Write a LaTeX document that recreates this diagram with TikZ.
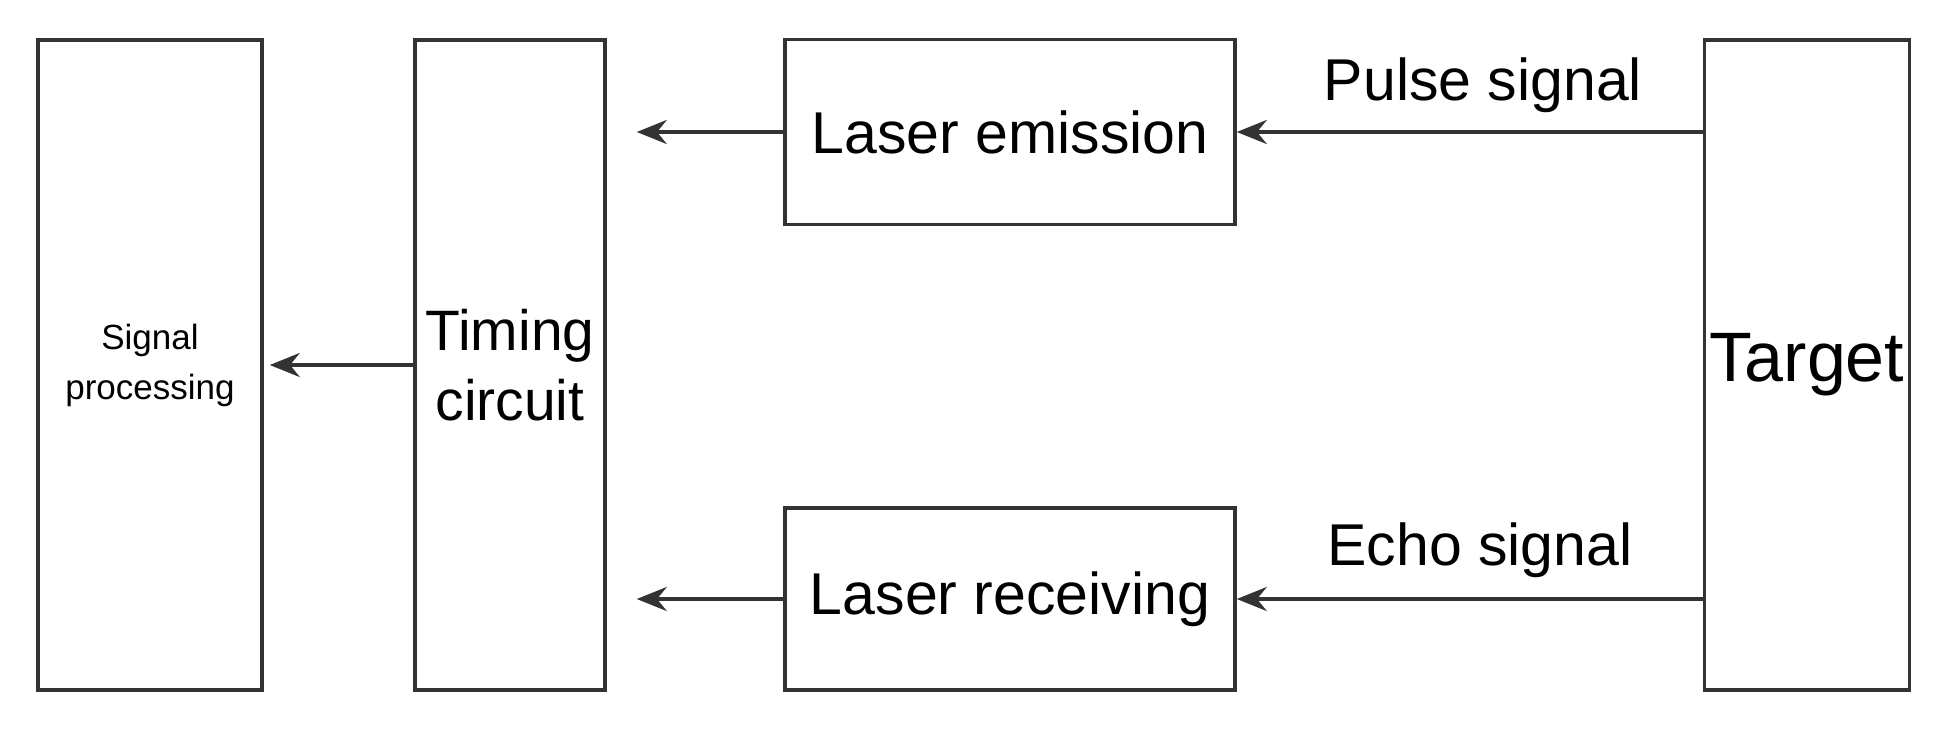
\documentclass[tikz,border=0pt]{standalone}
\usepackage{fontspec}
\setmainfont{Liberation Sans}
\usetikzlibrary{arrows.meta}
\begin{document}
\begin{tikzpicture}[x=1pt,y=-1pt,
  box/.style={draw=black!80,line width=3.5pt,inner sep=0pt},
  arr/.style={draw=black!80,line width=4pt,-{Stealth[length=30pt,width=24pt]}},
  lab/.style={font=\fontsize{59}{68}\selectfont}]
\useasboundingbox (0,0) rectangle (1950,728);
\node[box,minimum width=224pt,minimum height=650pt,align=center,font=\fontsize{35}{50}\selectfont] (sp) at (150,365) {Signal\\processing};
\node[box,minimum width=190pt,minimum height=650pt,align=center,font=\fontsize{57}{70}\selectfont] (tc) at (510,365) {Timing\\circuit};
\node[box,minimum width=450pt,minimum height=185pt,lab] (le) at (1010,132) {Laser emission};
\node[box,minimum width=450pt,minimum height=182pt,lab] (lr) at (1010,599) {Laser receiving};
\node[box,minimum width=205pt,minimum height=650pt,font=\fontsize{70}{80}\selectfont] (tg) at (1807,365) {Target};
\draw[arr] (tg.west |- le) -- (le.east);
\draw[arr] (tg.west |- lr) -- (lr.east);
\draw[arr] (le.west) -- ([xshift=30pt]tc.east |- le);
\draw[arr] (lr.west) -- ([xshift=30pt]tc.east |- lr);
\draw[arr] (tc.west) -- ([xshift=6pt]sp.east);
\node[lab] (ps) at (1483,85) {Pulse signal};
\node[lab] (es) at (1480,550) {Echo signal};
\end{tikzpicture}
\end{document}
